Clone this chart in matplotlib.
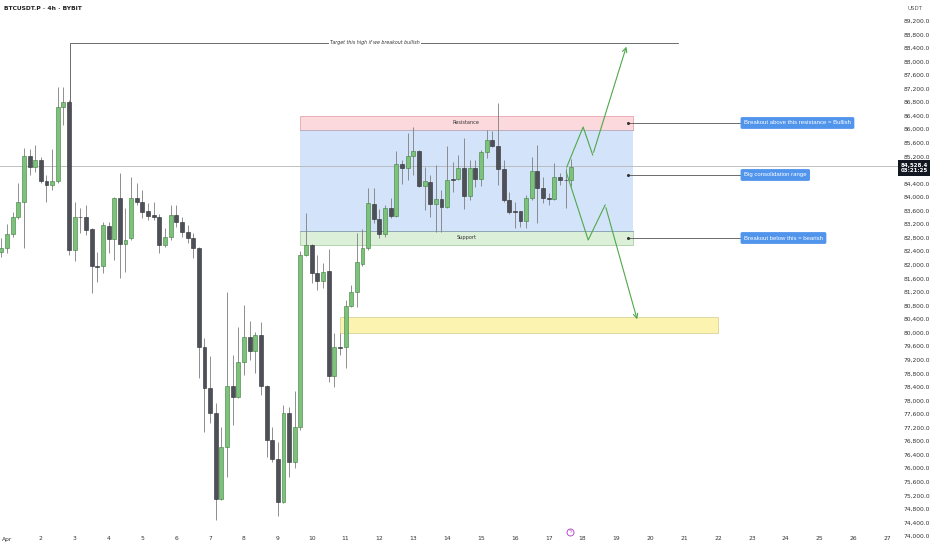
import numpy as np
import matplotlib
matplotlib.use("Agg")
import matplotlib.pyplot as plt
from matplotlib.patches import Rectangle
import matplotlib.transforms as mtransforms

# 4h candles, index 0 = Apr 1 00:00 (6 candles per day)
opens = [82378, 82496, 82909, 83410, 83853, 85210, 84885, 85092, 84472, 84354,
         84472, 86655, 86803, 82437, 83410, 83410, 83056, 81965, 81965, 83145,
         82761, 83971, 82614, 82791, 83971, 83853, 83587, 83470, 83410, 82584,
         82820, 83470, 83263, 82968, 82791, 82496, 79576, 78366, 77629, 75092,
         76626, 78425, 78101, 79133, 79871, 79458, 79930, 78425, 76832, 76272,
         75003, 77629, 76183, 77216, 82290, 82584, 81758, 81524, 81817, 78720,
         79576, 79576, 80785, 81198, 82024, 82496, 83794, 83351, 82909, 83676,
         83440, 84974, 84856, 85210, 85357, 84325, 84443, 83794, 83942, 83706,
         84530, 84531, 84856, 84030, 84856, 84531, 85328, 85682, 85505, 84826,
         83912, 83587, 83587, 83292, 83971, 84768, 84266, 83960, 83942, 84590,
         84502, 84502]
highs = [82791, 83204, 83558, 84413, 85446, 85416, 85534, 85180, 84649, 85416,
         87245, 87245, 86850, 83853, 83676, 83765, 83100, 82378, 83263, 83263,
         84000, 84708, 83676, 84590, 84413, 84207, 83824, 83853, 83499, 83086,
         83765, 83765, 83410, 83174, 82939, 82520, 79841, 79310, 77924, 77216,
         81198, 79340, 80166, 80815, 80343, 80018, 80313, 78450, 77216, 76773,
         77865, 77806, 78278, 82400, 83529, 82620, 82290, 82054, 82466, 79989,
         79989, 80962, 81405, 82939, 83056, 84266, 84266, 83646, 83765, 83971,
         85357, 85092, 85888, 86066, 85400, 84885, 84649, 84944, 84207, 85505,
         85033, 85240, 85741, 85092, 85092, 85400, 85977, 85948, 86774, 85092,
         84148, 83853, 83600, 84060, 85180, 85534, 84590, 84118, 85004, 84708,
         84856, 85121]
lows = [82230, 82348, 82820, 83351, 82496, 84649, 84738, 84413, 83853, 84207,
        84413, 86124, 82290, 82112, 82939, 82880, 81168, 81493, 81758, 82348,
        82142, 81611, 81788, 82732, 83765, 83381, 83322, 83322, 82348, 82525,
        82732, 83115, 82820, 82644, 82201, 78661, 77068, 77334, 74472, 75050,
        75741, 77275, 78080, 78750, 79192, 78809, 78160, 76331, 76183, 74590,
        74980, 75741, 76006, 77127, 82260, 81464, 81257, 81316, 78543, 78396,
        79340, 78956, 80760, 80756, 81965, 82437, 83234, 82791, 82820, 83381,
        83420, 84384, 84502, 84649, 84300, 83617, 83410, 82968, 82968, 83680,
        84148, 84500, 83646, 83912, 84300, 84325, 85151, 85480, 84354, 83853,
        83499, 83086, 83115, 83086, 83912, 83234, 83824, 83765, 83912, 84354,
        83676, 84325]
closes = [82496, 82909, 83410, 83853, 85210, 84885, 85092, 84472, 84354, 84472,
          86655, 86803, 82437, 83410, 83400, 83027, 81965, 81950, 83174, 82761,
          83971, 82614, 82732, 83971, 83853, 83558, 83440, 83410, 82584, 82820,
          83470, 83263, 82968, 82791, 82496, 79576, 78366, 77629, 75092, 76626,
          78425, 78101, 79133, 79871, 79458, 79930, 78425, 76832, 76272, 75003,
          77629, 76183, 77216, 82290, 82584, 81758, 81524, 81788, 78720, 79576,
          79560, 80785, 81198, 82083, 82496, 83824, 83351, 82909, 83676, 83440,
          84974, 84856, 85210, 85357, 84325, 84472, 83794, 83942, 83706, 84502,
          84510, 84856, 84030, 84856, 84531, 85328, 85682, 85505, 84826, 83912,
          83558, 83570, 83292, 83971, 84768, 84266, 83971, 83942, 84590, 84502,
          84490, 84885]
first_idx = -1

# drawings
resistance = (86390, 85977)
consolidation = (85977, 82998)
support = (82998, 82584)
yellow_zone = (80461, 79989)
target_price = 88544
up_path_x = [99.2, 102.1, 103.8, 109.9]
up_path_y = [84885, 86066, 85240, 88514]
down_path_x = [99.1, 103.0, 106.0, 111.8]
down_path_y = [84738, 82732, 83765, 80313]
notes = ["Breakout above this resistance = Bullish", "Big consolidation range",
         "Breakout below this = bearish"]
note_prices = [86184, 84650, 82791]
day_labels = ["Apr"] + [str(d) for d in range(2, 28)]
price_ticks = np.arange(74000, 89201, 400)

x = np.arange(first_idx, first_idx + len(opens))
o = np.array(opens); h = np.array(highs); l = np.array(lows); c = np.array(closes)
up = c >= o

fig = plt.figure(figsize=(9.32, 5.5), dpi=100)
ax = fig.add_axes([0, 0, 898 / 932, 1])
ax.set_xlim(-1.24, 157.9)
ax.set_ylim(89812 - 29.5 * 550, 89812)

# zones
x0, x1 = 51.9, 110.9
ax.add_patch(Rectangle((x0, resistance[1]), x1 - x0, resistance[0] - resistance[1],
                       fc="#fbd9dd", ec="#e8a3ad", lw=0.6, zorder=1))
ax.add_patch(Rectangle((x0, consolidation[1]), x1 - x0, consolidation[0] - consolidation[1],
                       fc="#d3e3f9", ec="none", lw=0, zorder=1))
ax.add_patch(Rectangle((x0, support[1]), x1 - x0, support[0] - support[1],
                       fc="#dcefd9", ec="#a9cfa5", lw=0.6, zorder=1))
ax.plot([x0, x1], [consolidation[1]] * 2, color="#8aa0b8", lw=0.6, zorder=1.5)
ax.plot([x0, x1], [consolidation[0]] * 2, color="#b7a7b8", lw=0.6, zorder=1.5)
ax.text((x0 + x1) / 2, sum(resistance) / 2, "Resistance", fontsize=3.6, color="#333",
        ha="center", va="center", zorder=2)
ax.text((x0 + x1) / 2, sum(support) / 2, "Support", fontsize=3.6, color="#333",
        ha="center", va="center", zorder=2)
ax.add_patch(Rectangle((59.0, yellow_zone[1]), 126.0 - 59.0, yellow_zone[0] - yellow_zone[1],
                       fc="#fdf3b0", ec="#d9d39a", lw=0.6, zorder=1))

# target line
ax.plot([11.16, 11.16, 118.9], [86803, target_price, target_price], color="#555", lw=0.6, zorder=1.5)
ax.text(65.2, target_price, "Target this high if we breakout bullish", fontsize=3.4,
        style="italic", color="#333", ha="center", va="center", zorder=2,
        bbox=dict(fc="white", ec="none", pad=1.0))

# crosshair-like price line
ax.axhline(84915, color="#b5b5b5", lw=0.6, zorder=1.2)

# candles
ax.vlines(x, l, h, color="#7d7d7d", lw=0.6, zorder=3)
body_h = np.maximum(np.abs(c - o), 25)
ax.bar(x[up], body_h[up], bottom=o[up], width=0.7, color="#7cc27a",
       edgecolor="#3e7d3e", linewidth=0.4, zorder=4)
ax.bar(x[~up], body_h[~up], bottom=c[~up], width=0.7, color="#4e5058",
       edgecolor="#2c2d33", linewidth=0.4, zorder=4)

# projection arrows
green = "#4fa84a"
ax.plot(up_path_x[:-1], up_path_y[:-1], color=green, lw=0.8, zorder=5)
ax.annotate("", xy=(up_path_x[-1], up_path_y[-1]), xytext=(up_path_x[-2], up_path_y[-2]),
            arrowprops=dict(arrowstyle="->", color=green, lw=0.8, mutation_scale=8), zorder=5)
ax.plot(down_path_x[:-1], down_path_y[:-1], color=green, lw=0.8, zorder=5)
ax.annotate("", xy=(down_path_x[-1], down_path_y[-1]), xytext=(down_path_x[-2], down_path_y[-2]),
            arrowprops=dict(arrowstyle="->", color=green, lw=0.8, mutation_scale=8), zorder=5)

# notes on the right
for txt, p in zip(notes, note_prices):
    ax.plot([110.0, 129.9], [p, p], color="#555", lw=0.6, zorder=2)
    ax.plot([110.0], [p], "o", ms=1.2, color="#333", zorder=2)
    ax.text(130.6, p, txt, fontsize=4.3, family="Liberation Sans", color="white",
            ha="left", va="center", zorder=6,
            bbox=dict(boxstyle="round,pad=0.45,rounding_size=0.15", fc="#5094ec", ec="#5094ec"))

# event marker
ax.plot([99.8], [74130], "o", ms=5, mfc="white", mec="#b44cc9", mew=0.7, zorder=6)
ax.text(99.8, 74130, "ϟ", fontsize=3.5, color="#b44cc9", ha="center", va="center", zorder=7)

# axes styling
for s in ax.spines.values():
    s.set_visible(False)
ax.set_xticks([])
ax.yaxis.tick_right()
ax.set_yticks(price_ticks)
ax.set_yticklabels([f"{v:,.1f}" for v in price_ticks])
ax.tick_params(axis="y", length=0, pad=4, labelsize=4.3, labelcolor="#333")
for lab in ax.get_yticklabels():
    if lab.get_text() == "84,800.0":
        lab.set_visible(False)

trans = mtransforms.blended_transform_factory(ax.transData, ax.transAxes)
for k, d in enumerate(day_labels):
    ax.text(6 * k, 1 - 539 / 550, d, transform=trans, fontsize=4.3, color="#333",
            ha="center", va="center")

fig.text(4 / 932, 1 - 9 / 550, "BTCUSDT.P · 4h · BYBIT", fontsize=4.3, color="#222",
         weight="bold", ha="left", va="center")
fig.text(915 / 932, 1 - 8 / 550, "USDT", fontsize=4.0, color="#555", ha="center", va="center")
fig.text(914 / 932, 1 - 168 / 550, "84,528.4\n03:21:25", fontsize=4.0, color="white",
         weight="bold", ha="center", va="center", linespacing=1.2,
         bbox=dict(fc="#131722", ec="none", pad=1.5))

fig.savefig("out.png", dpi=100, facecolor="white")
